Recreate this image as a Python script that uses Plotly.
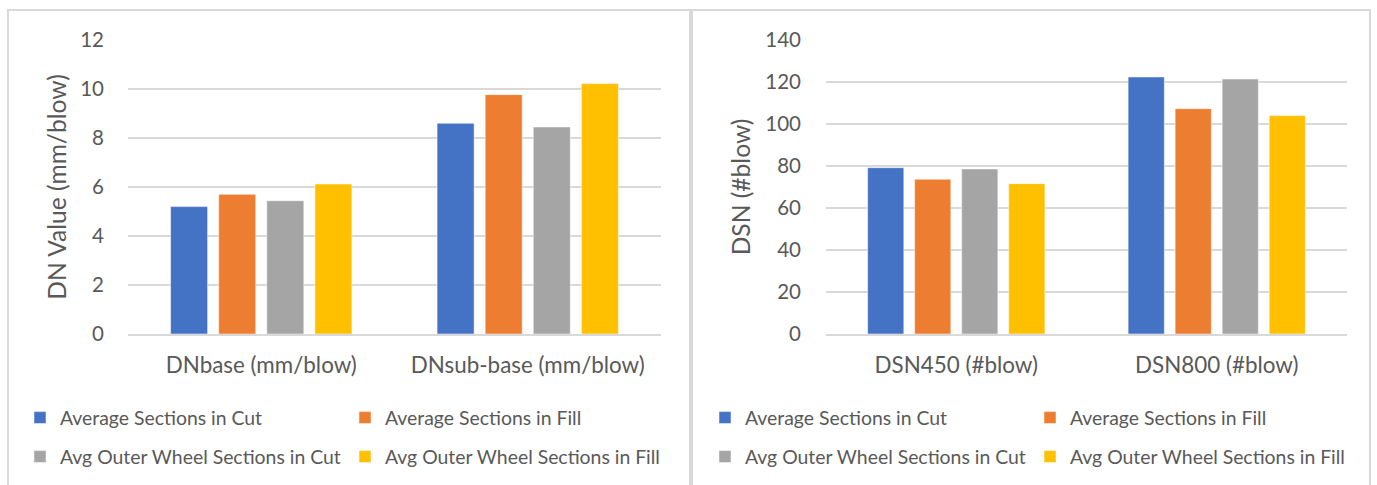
import plotly.graph_objects as go

W, H = 1377, 485

series = ["Average Sections in Cut", "Average Sections in Fill",
          "Avg Outer Wheel Sections in Cut", "Avg Outer Wheel Sections in Fill"]
colors = ["#4472C4", "#ED7D31", "#A5A5A5", "#FFC000"]

left_categories = ["DNbase (mm/blow)", "DNsub-base (mm/blow)"]
left_cut = [5.2, 8.6]
left_fill = [5.7, 9.77]
left_owc = [5.44, 8.45]
left_owf = [6.12, 10.22]

right_categories = ["DSN450 (#blow)", "DSN800 (#blow)"]
right_cut = [79.2, 122.4]
right_fill = [73.7, 107.3]
right_owc = [78.6, 121.4]
right_owf = [71.6, 104.0]

left_ticks = [0, 2, 4, 6, 8, 10, 12]
right_ticks = [0, 20, 40, 60, 80, 100, 120, 140]

FONT = "Lato"
GRAY_TXT = "#595959"
GRID = "#d9d9d9"

fig = go.Figure()

left_vals = [left_cut, left_fill, left_owc, left_owf]
right_vals = [right_cut, right_fill, right_owc, right_owf]
left_legends = ["legend", "legend", "legend2", "legend2"]
right_legends = ["legend3", "legend3", "legend4", "legend4"]

for i in range(4):
    fig.add_trace(go.Bar(x=left_categories, y=left_vals[i], name=series[i],
                         marker=dict(color=colors[i], line=dict(color="rgba(255,255,255,0.5)", width=1)),
                         xaxis="x", yaxis="y", legend=left_legends[i]))
for i in range(4):
    fig.add_trace(go.Bar(x=right_categories, y=right_vals[i], name=series[i],
                         marker=dict(color=colors[i], line=dict(color="rgba(255,255,255,0.5)", width=1)),
                         xaxis="x2", yaxis="y2", legend=right_legends[i]))

def px(x):
    return x / W

def py(y):
    return (H - y) / H

ydom = [py(334), py(40)]

axis_common = dict(showline=False, ticks="", zeroline=False, automargin=False,
                   tickfont=dict(family=FONT, size=20.5, color=GRAY_TXT))

leg_common = dict(orientation="h", xanchor="left", yanchor="middle",
                  font=dict(family=FONT, size=19.4, color=GRAY_TXT),
                  entrywidthmode="pixels", entrywidth=280, bgcolor="rgba(0,0,0,0)",
                  itemclick=False, itemdoubleclick=False)

xcommon = dict(ticklabelstandoff=10, showgrid=False, automargin=False,
               tickfont=dict(family=FONT, size=22.4, color=GRAY_TXT),
               showline=True, linecolor=GRID, linewidth=2, ticks="")

fig.update_layout(
    width=W, height=H,
    margin=dict(l=0, r=0, t=0, b=0, pad=0, autoexpand=False),
    paper_bgcolor="white", plot_bgcolor="white",
    barmode="group", bargap=0.278, bargroupgap=0.23,
    font=dict(family=FONT, color=GRAY_TXT),
    xaxis=dict(domain=[px(128), px(661)], anchor="y", **xcommon),
    yaxis=dict(domain=ydom, anchor="x", range=[0, 12], tickvals=left_ticks,
               showgrid=True, gridcolor=GRID, gridwidth=2,
               ticklabelstandoff=23,
               title=dict(text="DN Value (mm/blow)", standoff=6,
                          font=dict(family=FONT, size=24.6, color=GRAY_TXT)),
               **axis_common),
    xaxis2=dict(domain=[px(826), px(1347)], anchor="y2", **xcommon),
    yaxis2=dict(domain=ydom, anchor="x2", range=[0, 140], tickvals=right_ticks,
                showgrid=True, gridcolor=GRID, gridwidth=2,
                ticklabelstandoff=24,
                title=dict(text="DSN (#blow)", standoff=7,
                           font=dict(family=FONT, size=24.6, color=GRAY_TXT)),
                **axis_common),
    legend=dict(x=px(20), y=py(418), **leg_common),
    legend2=dict(x=px(20), y=py(457), **leg_common),
    legend3=dict(x=px(705), y=py(418), **leg_common),
    legend4=dict(x=px(705), y=py(457), **leg_common),
    shapes=[
        dict(type="rect", xref="paper", yref="paper", x0=px(8), x1=px(690), y0=py(500), y1=py(10),
             line=dict(color=GRID, width=2), fillcolor="rgba(0,0,0,0)", layer="below"),
        dict(type="rect", xref="paper", yref="paper", x0=px(692), x1=px(1370), y0=py(500), y1=py(10),
             line=dict(color=GRID, width=2), fillcolor="rgba(0,0,0,0)", layer="below"),
    ],
)

fig.write_html("out.html",
               config={"displayModeBar": False},
               post_script="document.body.style.margin='0';document.body.style.overflow='hidden';")
